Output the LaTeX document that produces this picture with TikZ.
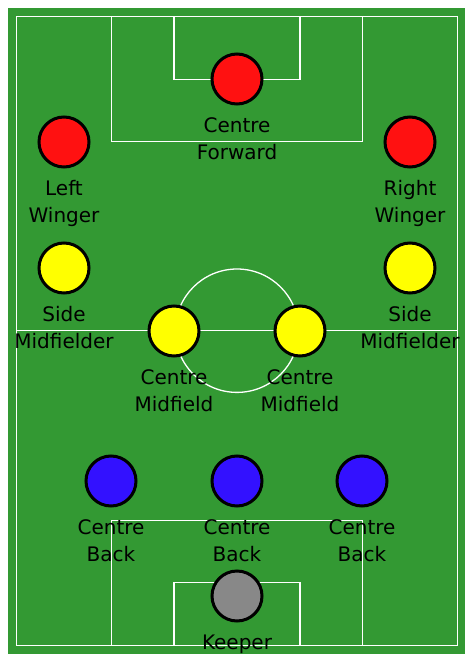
\documentclass[tikz,border=0pt]{standalone}
\usepackage{fontspec}
\setmainfont{DejaVu Sans}
\usetikzlibrary{positioning}
\definecolor{grass}{RGB}{51, 153, 51}
\definecolor{fwd}{RGB}{255, 17, 17}
\definecolor{mid}{RGB}{255, 255, 0}
\definecolor{back}{RGB}{51, 17, 255}
\definecolor{keeper}{RGB}{136, 136, 136}

\begin{document}
\begin{tikzpicture}[x=1pt, y=-1pt,
  player/.style={circle, draw=black, line width=3pt, minimum size=50pt, inner sep=0pt},
  role/.style={font=\fontsize{20}{26.5}\selectfont, align=center, inner sep=0pt},
  pitchline/.style={white, line width=1.3pt}]
  \useasboundingbox (0, 0) rectangle (474, 663);
  \fill[grass] (8, 8) rectangle (465, 654);

  % pitch markings
  \draw[pitchline] (16.7, 16.7) rectangle (457.3, 645.7);
  \draw[pitchline] (16.7, 330.7) -- (457.3, 330.7);
  \draw[pitchline] (237, 330.7) circle (61.7);
  \draw[pitchline] (111.7, 16.7) rectangle (362.3, 141.7);
  \draw[pitchline] (174, 16.7) rectangle (300, 79.3);
  \draw[pitchline] (111.7, 520.7) rectangle (362.3, 645.7);
  \draw[pitchline] (174, 582.7) rectangle (300, 645.7);

  % players
  \foreach \name/\px/\py/\col/\txt in {
      cf/237/79/fwd/{Centre\\Forward},
      lw/64/142/fwd/{Left\\Winger},
      rw/410/142/fwd/{Right\\Winger},
      lsm/64/268/mid/{Side\\Midfielder},
      rsm/410/268/mid/{Side\\Midfielder},
      lcm/174/331/mid/{Centre\\Midfield},
      rcm/300/331/mid/{Centre\\Midfield},
      lcb/111/481/back/{Centre\\Back},
      ccb/237/481/back/{Centre\\Back},
      rcb/362/481/back/{Centre\\Back},
      gk/237/596/keeper/{Keeper}} {
    \node[player, fill=\col] (\name) at (\px, \py) {};
    \node[role, below=12pt of \name] (\name-role) {\txt};
  }
\end{tikzpicture}
\end{document}
